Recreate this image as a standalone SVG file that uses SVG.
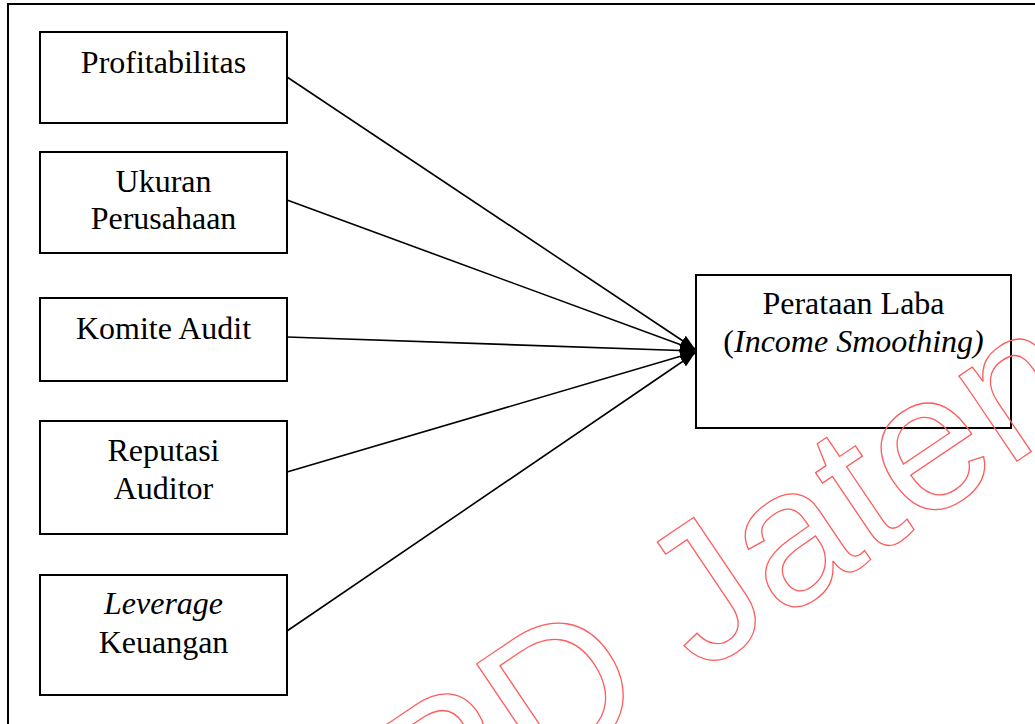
<svg xmlns="http://www.w3.org/2000/svg" width="1035" height="724" viewBox="0 0 1035 724">
<style>
.box{fill:#fff;stroke:#000;stroke-width:2}
.t{font-family:"Liberation Serif","Times New Roman",serif;font-size:32px;fill:#000;text-anchor:middle}
.i{font-style:italic}
.c{stroke:#000;stroke-width:1.6;fill:none}
.wm{font-family:"Liberation Sans",Arial,sans-serif;font-size:195px;fill:none;stroke:#ff5c5c;stroke-width:1.3}
</style>
<defs>
<marker id="ah" markerUnits="userSpaceOnUse" markerWidth="16" markerHeight="12" refX="15" refY="6" orient="auto">
<path d="M0,0 L15,6 L0,12 z" fill="#000"/>
</marker>
</defs>
<rect width="1035" height="724" fill="#fff"/>
<rect id="frame" x="8" y="4" width="1040" height="740" fill="none" stroke="#000" stroke-width="2"/>
<g id="connectors">
<line class="c" x1="287" y1="77" x2="695" y2="349" marker-end="url(#ah)"/>
<line class="c" x1="287" y1="200" x2="695" y2="350" marker-end="url(#ah)"/>
<line class="c" x1="287" y1="337" x2="695" y2="351" marker-end="url(#ah)"/>
<line class="c" x1="287" y1="472" x2="695" y2="352" marker-end="url(#ah)"/>
<line class="c" x1="287" y1="631" x2="695" y2="353" marker-end="url(#ah)"/>
</g>
<g id="profitabilitas">
<rect class="box" x="40" y="32" width="247" height="91"/>
<text class="t" x="163.5" y="73">Profitabilitas</text>
</g>
<g id="ukuran">
<rect class="box" x="40" y="152" width="247" height="101"/>
<text class="t" x="163.5" y="192">Ukuran</text>
<text class="t" x="163.5" y="229">Perusahaan</text>
</g>
<g id="komite">
<rect class="box" x="40" y="298" width="247" height="83"/>
<text class="t" x="163.5" y="339">Komite Audit</text>
</g>
<g id="reputasi">
<rect class="box" x="40" y="421" width="247" height="113"/>
<text class="t" x="163.5" y="461">Reputasi</text>
<text class="t" x="163.5" y="499">Auditor</text>
</g>
<g id="leverage">
<rect class="box" x="40" y="575" width="247" height="120"/>
<text class="t i" x="163.5" y="614">Leverage</text>
<text class="t" x="163.5" y="653">Keuangan</text>
</g>
<g id="perataan">
<rect class="box" x="696" y="275" width="315" height="153"/>
<text class="t" x="853.5" y="314">Perataan Laba</text>
<text class="t" x="853.5" y="352">(<tspan class="i">Income Smoothing)</tspan></text>
</g>
<text class="wm" transform="translate(430.6,856.7) rotate(-34)">PD Jateng</text>
</svg>
